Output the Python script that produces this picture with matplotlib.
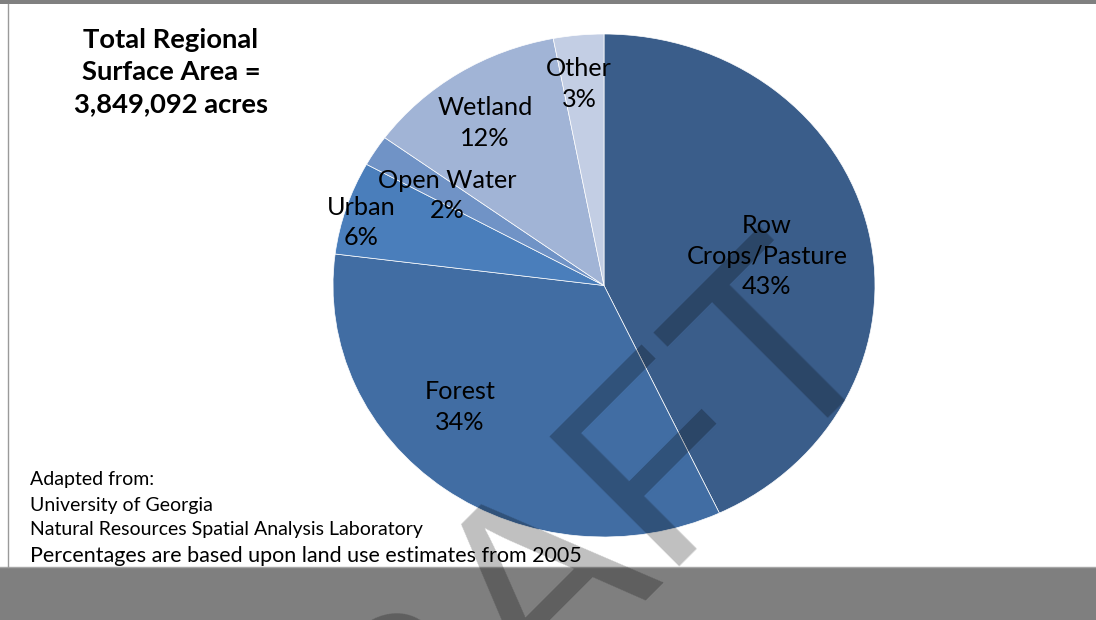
import matplotlib.pyplot as plt
from matplotlib.patches import Rectangle

# land use shares (percent), clockwise from the top
categories = ["Row\nCrops/Pasture", "Forest", "Urban", "Open Water", "Wetland", "Other"]
shares = [43, 34, 6, 2, 12, 3]
colors = ["#3A5D8A", "#416DA3", "#4A7EBB", "#7093C6", "#A1B4D6", "#C3CEE4"]

title_text = "Total Regional\nSurface Area =\n3,849,092 acres"
source_lines = ["Adapted from:", "University of Georgia",
                "Natural Resources Spatial Analysis Laboratory"]
note_text = "Percentages are based upon land use estimates from 2005"

# label centres in pie data units
label_pos = [(0.601, 0.117), (-0.531, -0.483), (-0.897, 0.250),
             (-0.580, 0.358), (-0.439, 0.646), (-0.092, 0.801)]

plt.rcParams["font.family"] = ["Lato", "DejaVu Sans"]

W, H = 1096, 620
fig = plt.figure(figsize=(W / 100, H / 100), dpi=100)

# background layer in pixel coordinates
bg = fig.add_axes([0, 0, 1, 1])
bg.set_xlim(0, W)
bg.set_ylim(H, 0)
bg.axis("off")
bg.add_patch(Rectangle((0, 0), W, 4, color="#808080", lw=0))
bg.add_patch(Rectangle((0, 567), W, H - 567, color="#7F7F7F", lw=0))
bg.plot([0, W], [567, 567], color="#A6A6A6", lw=1)
bg.plot([8, 8], [4, 567], color="#9A9A9A", lw=1)

bg.text(171, 72, title_text, ha="center", va="center", fontsize=19.7,
        fontweight="bold", linespacing=1.4)
for txt, yb in zip(source_lines, [485, 511, 535]):
    bg.text(30, yb, txt, ha="left", va="baseline", fontsize=14)
bg.text(30, 562, note_text, ha="left", va="baseline", fontsize=15.5)

# pie (slightly elliptical, as in the original)
x0, x1, y0, y1 = 333, 875, 34, 537
ax = fig.add_axes([x0 / W, 1 - y1 / H, (x1 - x0) / W, (y1 - y0) / H])
ax.pie(shares, colors=colors, startangle=90, counterclock=False, radius=1,
       wedgeprops=dict(edgecolor="white", linewidth=0.5))
ax.set_aspect("auto")
ax.set_xlim(-1, 1)
ax.set_ylim(-1, 1)
ax.axis("off")

for name, val, (lx, ly) in zip(categories, shares, label_pos):
    ax.text(lx, ly, f"{name}\n{val}%", ha="center", va="center",
            fontsize=18.2, linespacing=1.4, color="black")

# DRAFT watermark
fig.text(889 / W, 1 - 336 / H, "DRAFT", rotation=45, rotation_mode="anchor",
         ha="right", va="baseline", fontsize=192, family="Liberation Sans",
         color="black", alpha=0.25, zorder=10)

fig.savefig("out.png", dpi=100)
